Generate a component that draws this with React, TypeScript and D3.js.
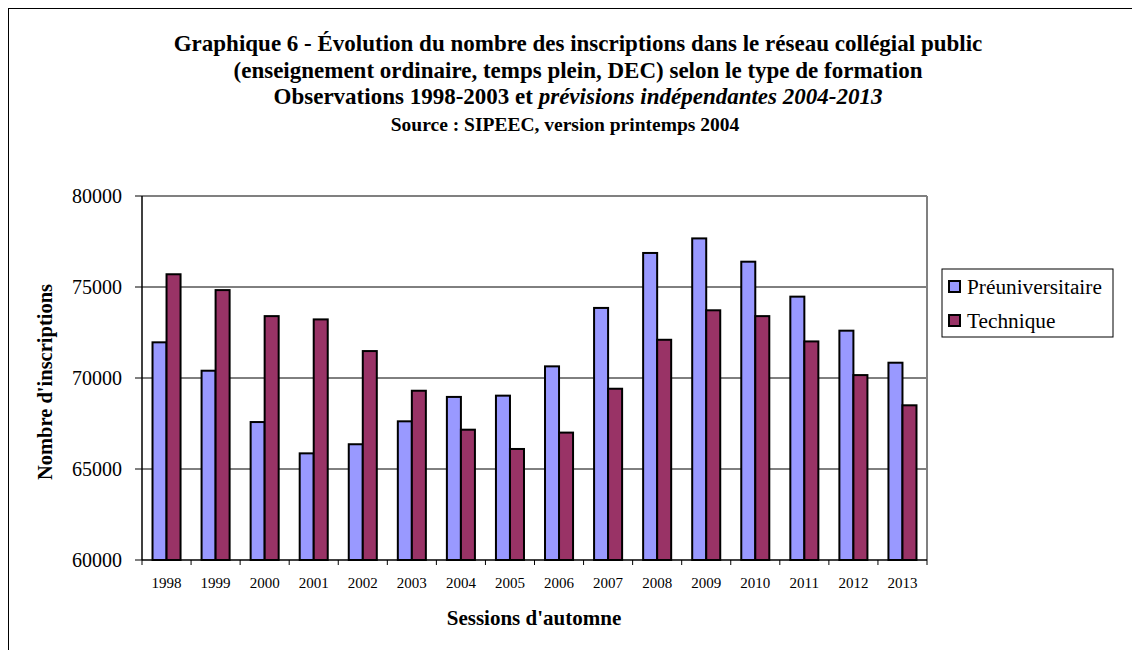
import React from "react";
import * as d3 from "d3";

const years = ["1998","1999","2000","2001","2002","2003","2004","2005","2006","2007","2008","2009","2010","2011","2012","2013"];
const preuniversitaire = [71960,70400,67580,65860,66360,67620,68960,69030,70640,73850,76870,77670,76390,74470,72600,70840];
const technique = [75700,74830,73400,73220,71480,69300,67160,66100,67000,69410,72100,73720,73400,72010,70160,68500];
const yTicks = [60000,65000,70000,75000,80000];
const seriesNames = ["Préuniversitaire","Technique"];
const seriesColors = ["#9999FF","#993366"];

export default function App() {
  const left = 142, right = 927, top = 196, bottom = 560;
  const x = d3.scaleBand<string>().domain(years).range([left, right]).paddingInner(0).paddingOuter(0);
  const y = d3.scaleLinear().domain([60000, 80000]).range([bottom, top]);
  const bw = x.bandwidth();
  const barW = bw / 3.5;
  const gap = (bw - 2 * barW) / 2;
  const series = [preuniversitaire, technique];
  const cx = 578;
  return (
    <svg width={1132} height={650} style={{ position: "absolute", left: 0, top: 0, background: "#fff", fontFamily: "Liberation Serif" }}>
      <rect x={0} y={0} width={1132} height={650} fill="#fff" />
      <rect x={8.5} y={8.5} width={1140} height={660} fill="none" stroke="#000" strokeWidth={1} />
      <g fontWeight="bold" textAnchor="middle" fill="#000">
        <text x={cx} y={51} fontSize={23}>Graphique 6 - Évolution du nombre des inscriptions dans le réseau collégial public</text>
        <text x={cx} y={78} fontSize={23}>(enseignement ordinaire, temps plein, DEC) selon le type de formation</text>
        <text x={cx} y={104} fontSize={23}>Observations 1998-2003 et <tspan fontStyle="italic">prévisions indépendantes 2004-2013</tspan></text>
        <text x={565} y={131} fontSize={19.5}>Source : SIPEEC, version printemps 2004</text>
      </g>
      {yTicks.slice(1, -1).map((t) => (
        <line key={t} x1={left} x2={right} y1={y(t)} y2={y(t)} stroke="#000" strokeWidth={1} />
      ))}
      <line x1={left} x2={right} y1={top} y2={top} stroke="#808080" strokeWidth={2} />
      <line x1={right} x2={right} y1={top} y2={bottom} stroke="#808080" strokeWidth={2} />
      {years.map((yr, i) => (
        <g key={yr}>
          {series.map((s, k) => (
            <rect key={k} x={(x(yr) as number) + gap + k * barW} y={y(s[i])} width={barW} height={bottom - y(s[i])}
              fill={seriesColors[k]} stroke="#000" strokeWidth={2} />
          ))}
        </g>
      ))}
      <line x1={left} x2={left} y1={top} y2={bottom} stroke="#000" strokeWidth={1.5} />
      <line x1={left} x2={right} y1={bottom} y2={bottom} stroke="#000" strokeWidth={1.5} />
      {yTicks.map((t) => (
        <g key={t}>
          <line x1={left - 7} x2={left} y1={y(t)} y2={y(t)} stroke="#000" strokeWidth={1} />
          <text x={122} y={y(t) + 7} fontSize={20} textAnchor="end">{t}</text>
        </g>
      ))}
      {years.concat(["end"]).map((yr, i) => {
        const px = left + i * bw;
        return <line key={"t" + i} x1={px} x2={px} y1={bottom} y2={bottom + 5} stroke="#000" strokeWidth={1} />;
      })}
      {years.map((yr) => (
        <text key={"l" + yr} x={(x(yr) as number) + bw / 2} y={588} fontSize={15} textAnchor="middle">{yr}</text>
      ))}
      <text x={534} y={625} fontSize={21} fontWeight="bold" textAnchor="middle">Sessions d'automne</text>
      <text transform={`translate(52,382) rotate(-90)`} fontSize={20.5} fontWeight="bold" textAnchor="middle">Nombre d'inscriptions</text>
      <rect x={942} y={269} width={171} height={68} fill="#fff" stroke="#000" strokeWidth={1} />
      {seriesNames.map((n, k) => (
        <g key={n}>
          <rect x={949} y={281 + k * 34} width={11} height={11} fill={seriesColors[k]} stroke="#000" strokeWidth={2} />
          <text x={967} y={294 + k * 34} fontSize={21.3}>{n}</text>
        </g>
      ))}
    </svg>
  );
}
